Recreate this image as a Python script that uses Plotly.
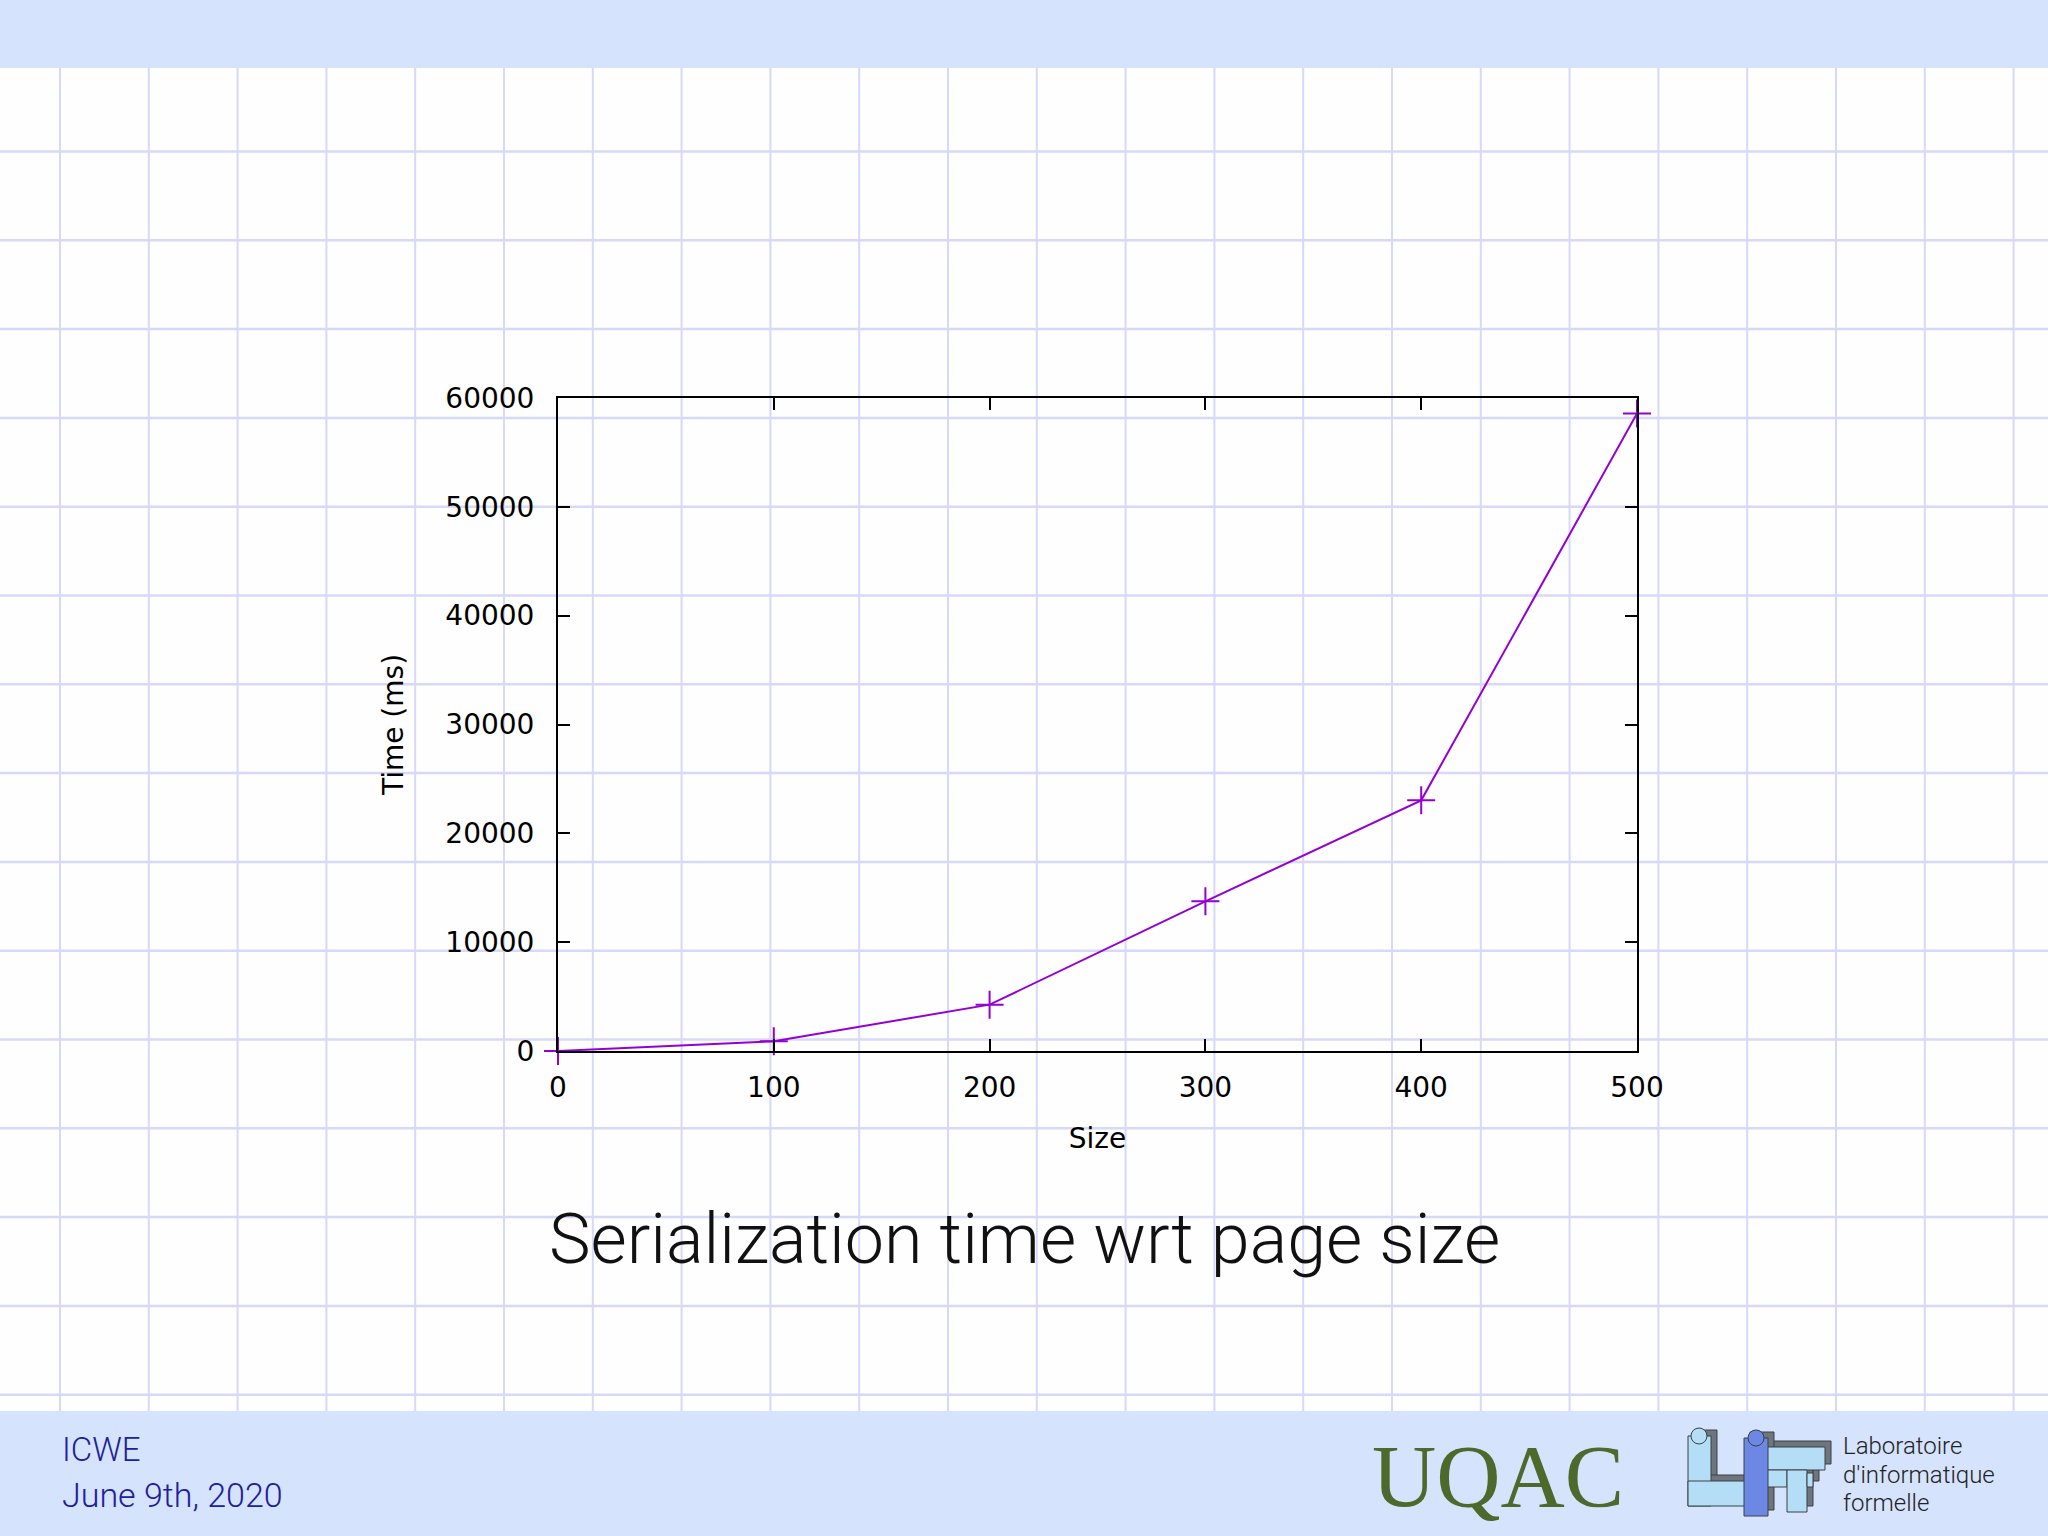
import plotly.graph_objects as go

# ---- data ----
sizes = [0, 100, 200, 300, 400, 500]
times_ms = [0, 890, 4260, 13750, 23030, 58570]
x_ticks = [0, 100, 200, 300, 400, 500]
y_ticks = [0, 10000, 20000, 30000, 40000, 50000, 60000]

chart_title = "Serialization time wrt page size"
footer_lines = ["ICWE", "June 9th, 2020"]
lab_lines = ["Laboratoire", "d'informatique", "formelle"]

# ---- geometry helpers (pixel -> paper) ----
W, H = 2048, 1536
PL, PR, PT, PB = 558, 1637, 398, 1051


def px(x):
    return (x - PL) / (PR - PL)


def py(y):
    return (PB - y) / (PB - PT)


shapes = []
grid_col = "#d8d8f8"
# background squared paper
for k in range(23):
    x = 60 + 88.8 * k
    shapes.append(dict(type="line", xref="paper", yref="paper",
                       x0=px(x), x1=px(x), y0=py(60), y1=py(1415),
                       line=dict(color=grid_col, width=2), layer="below"))
for k in range(15):
    y = 151.5 + 88.8 * k
    shapes.append(dict(type="line", xref="paper", yref="paper",
                       x0=px(0), x1=px(W), y0=py(y), y1=py(y),
                       line=dict(color=grid_col, width=2.5), layer="below"))

band = "#d5e3fc"


def rect(x0, y0, x1, y1, fill, line_col=None, lw=0, layer="below"):
    d = dict(type="rect", xref="paper", yref="paper",
             x0=px(x0), x1=px(x1), y0=py(y1), y1=py(y0),
             fillcolor=fill, layer=layer,
             line=dict(width=lw, color=line_col or fill))
    return d


shapes.append(rect(0, 0, W, 68, band))
shapes.append(rect(0, 1411, W, H, band))

# LIF puzzle-like logo (approximation)
shadow = "#6f757c"
edge = "#3c4046"
light = "#b3def5"
blue = "#6d88e4"
off = 6
pieces = [
    (1688, 1436, 1711, 1506, light),
    (1688, 1481, 1748, 1506, light),
    (1767, 1447, 1825, 1470, light),
    (1767, 1470, 1787, 1487, light),
    (1787, 1470, 1807, 1512, light),
    (1807, 1473, 1813, 1487, light),
    (1744, 1438, 1768, 1516, blue),
]
for (x0, y0, x1, y1, c) in pieces:
    shapes.append(rect(x0 + off, y0 - off, x1 + off, y1 - off, shadow, edge, 1))
for (x0, y0, x1, y1, c) in pieces:
    shapes.append(rect(x0, y0, x1, y1, c, edge, 1))
for (cx, cy, r, c) in [(1699, 1436, 8, light), (1756, 1438, 8, blue)]:
    shapes.append(dict(type="circle", xref="paper", yref="paper",
                       x0=px(cx - r), x1=px(cx + r), y0=py(cy + r), y1=py(cy - r),
                       fillcolor=c, line=dict(color=edge, width=1), layer="below"))

annotations = [
    dict(text=chart_title, xref="paper", yref="paper", x=px(1024), y=py(1239),
         xanchor="center", yanchor="middle", showarrow=False,
         font=dict(family="Roboto", size=70, color="#111111", weight=300)),
    dict(text=footer_lines[0], xref="paper", yref="paper", x=px(60), y=py(1449),
         xanchor="left", yanchor="middle", showarrow=False,
         font=dict(family="Roboto", size=33, color="#20209c", weight=300)),
    dict(text=footer_lines[1], xref="paper", yref="paper", x=px(60), y=py(1495),
         xanchor="left", yanchor="middle", showarrow=False,
         font=dict(family="Roboto", size=34, color="#20209c", weight=300)),
    dict(text="UQAC", xref="paper", yref="paper", x=px(1498), y=py(1476),
         xanchor="center", yanchor="middle", showarrow=False,
         font=dict(family="Liberation Serif", size=89, color="#4d6a2c")),
]
for i, t in enumerate(lab_lines):
    annotations.append(dict(text=t, xref="paper", yref="paper", x=px(1841),
                            y=py(1446 + 28.5 * i), xanchor="left", yanchor="middle",
                            showarrow=False,
                            font=dict(family="Roboto", size=24, color="#222222", weight=300)))

purple = "#9400d3"
fig = go.Figure()
fig.add_trace(go.Scatter(
    x=sizes, y=times_ms, mode="lines+markers",
    line=dict(color=purple, width=2),
    marker=dict(symbol="cross-thin", size=20, line=dict(color=purple, width=2)),
    cliponaxis=False, showlegend=False,
))

axis_common = dict(
    showline=True, linecolor="black", linewidth=2, mirror="allticks",
    ticks="inside", ticklen=12, tickwidth=2, tickcolor="black",
    showgrid=False, zeroline=False,
    tickfont=dict(family="DejaVu Sans", size=28, color="black"),
)

fig.update_layout(
    width=W, height=H,
    margin=dict(l=PL, r=W - PR, t=PT, b=H - PB, pad=0),
    paper_bgcolor="#fefefe", plot_bgcolor="rgba(0,0,0,0)",
    shapes=shapes, annotations=annotations,
    xaxis=dict(range=[0, 500], tickvals=x_ticks, ticklabelstandoff=10,
               title=dict(text="Size", font=dict(family="DejaVu Sans", size=28, color="black"),
                          standoff=26),
               **axis_common),
    yaxis=dict(range=[0, 60000], tickvals=y_ticks, tickformat="d", ticklabelstandoff=16,
               title=dict(text="Time (ms)", font=dict(family="DejaVu Sans", size=28, color="black"),
                          standoff=34),
               **axis_common),
)

fig.write_html("out.html", config={"displayModeBar": False},
               post_script="document.body.style.margin='0';")
